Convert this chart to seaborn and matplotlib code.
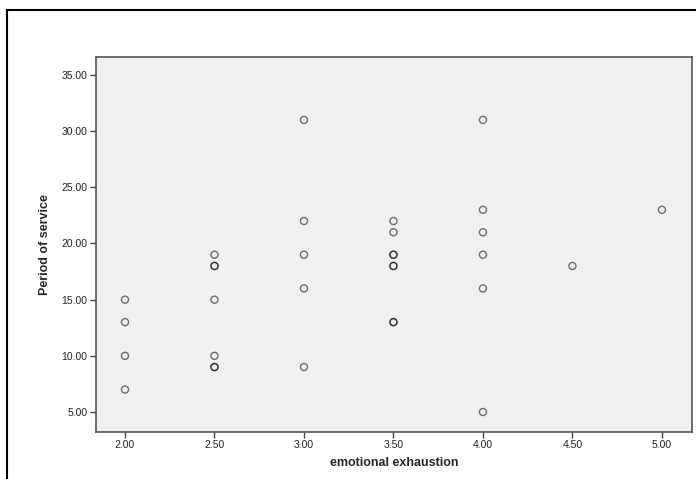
import matplotlib
matplotlib.use("Agg")
import matplotlib.pyplot as plt
from matplotlib.lines import Line2D
import seaborn as sns
import pandas as pd

# Emotional exhaustion score and years of service for each respondent
exhaustion = [2.0, 2.0, 2.0, 2.0,
              2.5, 2.5, 2.5, 2.5, 2.5, 2.5, 2.5,
              3.0, 3.0, 3.0, 3.0, 3.0,
              3.5, 3.5, 3.5, 3.5, 3.5, 3.5, 3.5, 3.5,
              4.0, 4.0, 4.0, 4.0, 4.0, 4.0,
              4.5,
              5.0]
service = [15, 13, 10, 7,
           19, 18, 18, 15, 10, 9, 9,
           31, 22, 19, 16, 9,
           22, 21, 19, 19, 18, 18, 13, 13,
           31, 23, 21, 19, 16, 5,
           18,
           23]

x_ticks = [2.0, 2.5, 3.0, 3.5, 4.0, 4.5, 5.0]
y_ticks = [5, 10, 15, 20, 25, 30, 35]

df = pd.DataFrame({"emotional exhaustion": exhaustion, "Period of service": service})

sns.set_style("white")
plt.rcParams["font.family"] = ["Liberation Sans", "DejaVu Sans"]

fig = plt.figure(figsize=(6.96, 4.79), dpi=100)
ax = fig.add_axes([96 / 696, 1 - 432 / 479, 596 / 696, 375 / 479])
ax.set_facecolor("#f0f0f0")

sns.scatterplot(data=df, x="emotional exhaustion", y="Period of service", ax=ax,
                marker="o", s=26, facecolors="none",
                edgecolor=(0, 0, 0, 0.55), linewidth=1.0)

ax.set_xlim(1.838, 5.168)
ax.set_ylim(3.22, 36.6)
ax.set_xticks(x_ticks)
ax.set_yticks(y_ticks)
ax.set_xticklabels([f"{v:.2f}" for v in x_ticks])
ax.set_yticklabels([f"{v:.2f}" for v in y_ticks])
ax.tick_params(axis="both", direction="out", length=4, width=1, color="#444444",
               labelsize=7.5, labelcolor="#222222", pad=2, bottom=True, left=True)
for sp in ax.spines.values():
    sp.set_color("#555555")
    sp.set_linewidth(1.2)

ax.set_xlabel("emotional exhaustion", fontsize=9, fontweight="bold", labelpad=5)
ax.set_ylabel("Period of service", fontsize=9, fontweight="bold", labelpad=8)

# Outer frame lines along the top and left edges
fig.add_artist(Line2D([7 / 696, 1.0], [1 - 10 / 479, 1 - 10 / 479],
                      transform=fig.transFigure, color="black", lw=1.5))
fig.add_artist(Line2D([7 / 696, 7 / 696], [0.0, 1 - 10 / 479],
                      transform=fig.transFigure, color="black", lw=1.5))

fig.savefig("out.png", dpi=100, facecolor="white")
